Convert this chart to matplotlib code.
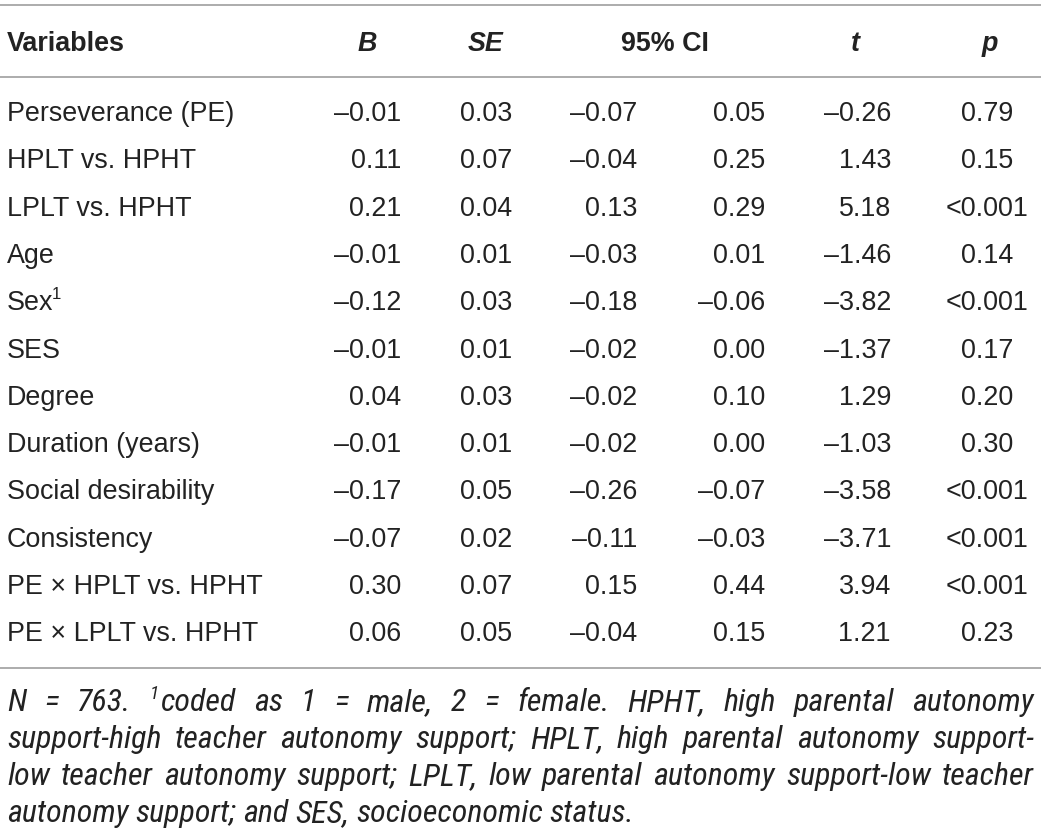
import matplotlib
matplotlib.use("Agg")
import matplotlib.pyplot as plt
from matplotlib import font_manager

variables = ["Perseverance (PE)", "HPLT vs. HPHT", "LPLT vs. HPHT", "Age", "Sex",
             "SES", "Degree", "Duration (years)", "Social desirability", "Consistency",
             "PE × HPLT vs. HPHT", "PE × LPLT vs. HPHT"]
B = [-0.01, 0.11, 0.21, -0.01, -0.12, -0.01, 0.04, -0.01, -0.17, -0.07, 0.30, 0.06]
SE = [0.03, 0.07, 0.04, 0.01, 0.03, 0.01, 0.03, 0.01, 0.05, 0.02, 0.07, 0.05]
ci_low = [-0.07, -0.04, 0.13, -0.03, -0.18, -0.02, -0.02, -0.02, -0.26, -0.11, 0.15, -0.04]
ci_high = [0.05, 0.25, 0.29, 0.01, -0.06, 0.00, 0.10, 0.00, -0.07, -0.03, 0.44, 0.15]
t_vals = [-0.26, 1.43, 5.18, -1.46, -3.82, -1.37, 1.29, -1.03, -3.58, -3.71, 3.94, 1.21]
p_vals = ["0.79", "0.15", "<0.001", "0.14", "<0.001", "0.17", "0.20", "0.30",
          "<0.001", "<0.001", "<0.001", "0.23"]
headers = ["Variables", "B", "SE", "95% CI", "t", "p"]
# "^" marks a superscript "1" in front of a word
note_lines = [
    "N = 763. ^coded as 1 = male, 2 = female. HPHT, high parental autonomy",
    "support-high teacher autonomy support; HPLT, high parental autonomy support-",
    "low teacher autonomy support; LPLT, low parental autonomy support-low teacher",
    "autonomy support; and SES, socioeconomic status.",
]

W, H = 1041, 834
ink = "#222222"
rule = "#a6a6a6"
fam = "Liberation Sans"
names = {f.name for f in font_manager.fontManager.ttflist}
note_fam = fam
for cand in ["Liberation Sans Narrow", "Roboto Condensed", "Open Sans Condensed",
             "DejaVu Sans Condensed"]:
    if cand in names:
        note_fam = cand
        break
fs = 19.4

fig = plt.figure(figsize=(W / 100, H / 100), dpi=100)
ax = fig.add_axes([0, 0, 1, 1])
ax.set_xlim(0, W)
ax.set_ylim(H, 0)
ax.axis("off")


def fmt(v):
    return f"{v:.2f}".replace("-", "–")


# rules
for y in (5, 77, 668):
    ax.plot([0, W], [y, y], color=rule, lw=1.3, solid_capstyle="butt")

# header
hy = 51
hkw = dict(fontsize=fs, fontweight="bold", family=fam, color=ink, va="baseline")
ax.text(7, hy, headers[0], **hkw)
ax.text(367, hy, headers[1], style="italic", ha="center", **hkw)
ax.text(486, hy, headers[2], style="italic", ha="center", **hkw)
ax.text(665, hy, headers[3], ha="center", **hkw)
ax.text(855, hy, headers[4], style="italic", ha="center", **hkw)
ax.text(990, hy, headers[5], style="italic", ha="center", **hkw)

# body
y0, dy = 121, 47.3
for i, name in enumerate(variables):
    y = y0 + i * dy
    kw = dict(fontsize=fs, family=fam, color=ink, va="baseline")
    ax.text(7, y, name, ha="left", **kw)
    if name == "Sex":
        ax.text(52, y - 11, "1", fontsize=fs * 0.62, family=fam, color=ink, va="baseline")
    ax.text(401, y, fmt(B[i]), ha="right", **kw)
    ax.text(512, y, fmt(SE[i]), ha="right", **kw)
    ax.text(637, y, fmt(ci_low[i]), ha="right", **kw)
    ax.text(765, y, fmt(ci_high[i]), ha="right", **kw)
    ax.text(891, y, fmt(t_vals[i]), ha="right", **kw)
    ax.text(987, y, p_vals[i], ha="center", **kw)

# justified italic note
renderer = fig.canvas.get_renderer()
nfs = 23
left, right = 7, 1034
ny0, ndy = 711, 37
for k, line in enumerate(note_lines):
    y = ny0 + k * ndy
    words = line.split(" ")
    groups = []
    for w in words:
        parts = []
        if w.startswith("^"):
            sup = ax.text(0, y - 12, "1", fontsize=nfs * 0.6, family=note_fam,
                          style="italic", color=ink, va="baseline")
            parts.append(sup)
            w = w[1:]
        parts.append(ax.text(0, y, w, fontsize=nfs, family=note_fam, style="italic",
                             color=ink, va="baseline"))
        groups.append(parts)
    widths = [[p.get_window_extent(renderer).width for p in g] for g in groups]
    totals = [sum(ws) + (2 if len(ws) > 1 else 0) for ws in widths]
    if k < len(note_lines) - 1:
        gap = (right - left - sum(totals)) / (len(groups) - 1)
    else:
        gap = nfs * 0.3
    x = left
    for g, ws, tot in zip(groups, widths, totals):
        px = x
        for p, w in zip(g, ws):
            p.set_x(px)
            px += w + 2
        x += tot + gap

fig.savefig("out.png", dpi=100)
